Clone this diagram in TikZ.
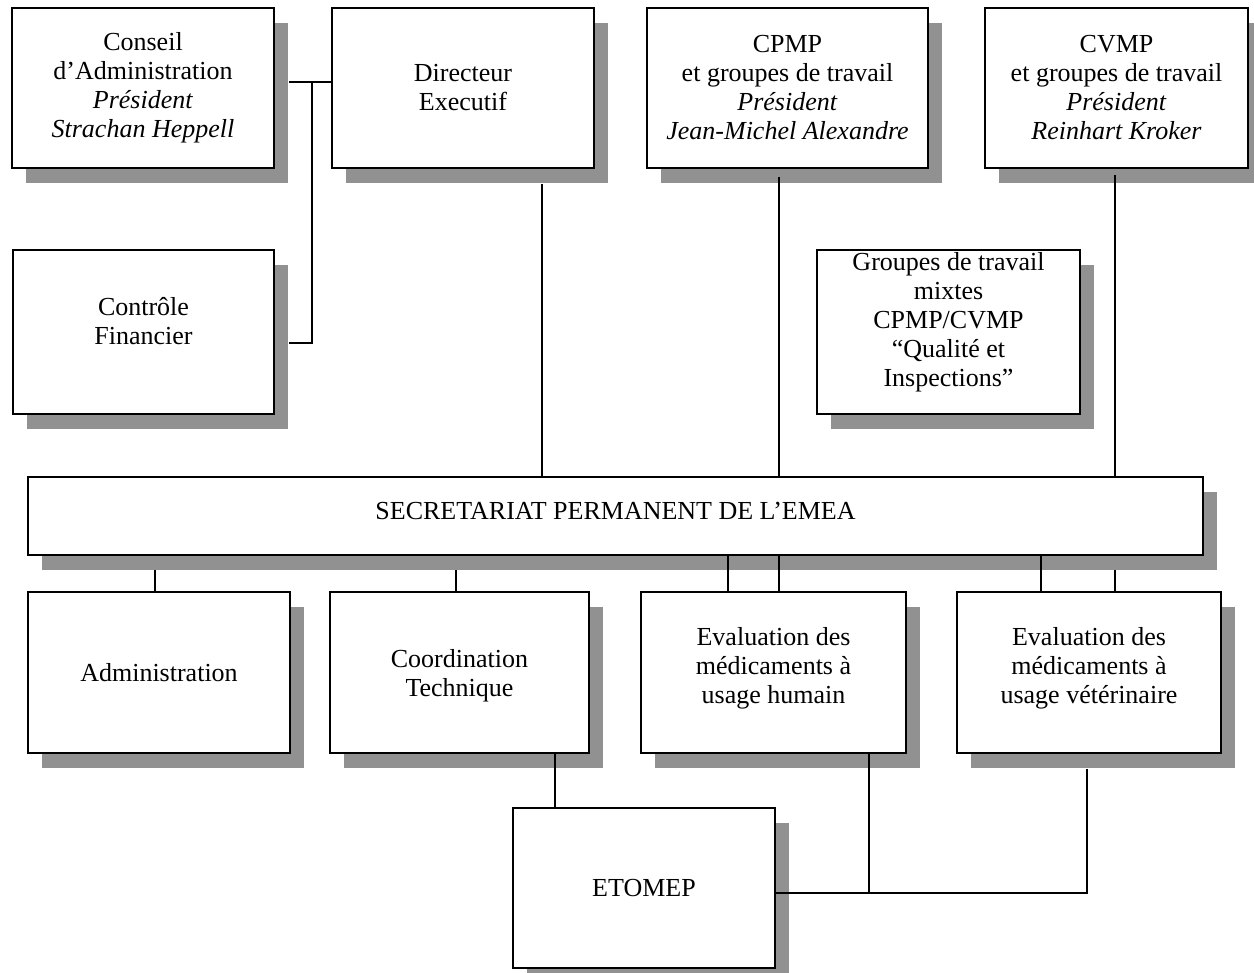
\documentclass[tikz,border=0pt]{standalone}
\usepackage{fontspec}
\setmainfont{Liberation Serif}
\usetikzlibrary{shadows}
\definecolor{shadowgray}{RGB}{145,145,145}
\newcommand{\liftlines}[2]{\raisebox{#1}[\height][\depth]{\begin{tabular}{@{}c@{}}#2\end{tabular}}}
\begin{document}
\begin{tikzpicture}[x=1pt,y=-1pt,
  box/.style={draw, line width=2pt, fill=white, anchor=north west, align=center,
    inner sep=0pt, font=\fontsize{26}{29}\selectfont,
    drop shadow={shadow xshift=14pt, shadow yshift=-15pt, fill=shadowgray, opacity=1}},
  conn/.style={line width=1.7pt}]
\clip (0,0) rectangle (1254,973);
\fill[white] (0,0) rectangle (1254,973);

% boxes
\node[box, minimum width=262pt, minimum height=160pt] (cons) at (11,7)
  {Conseil\\d'Administration\\\textit{Président}\\\textit{Strachan Heppell}};
\node[box, minimum width=262pt, minimum height=160pt] (dir) at (331,7)
  {Directeur\\Executif};
\node[box, minimum width=281pt, minimum height=160pt] (cpmp) at (646,7)
  {CPMP\\et groupes de travail\\\textit{Président}\\\textit{Jean-Michel Alexandre}};
\node[box, minimum width=263pt, minimum height=160pt] (cvmp) at (984,7)
  {CVMP\\et groupes de travail\\\textit{Président}\\\textit{Reinhart Kroker}};
\node[box, minimum width=261pt, minimum height=164pt] (ctrl) at (12,249)
  {\liftlines{8pt}{Contrôle\\Financier}};
\node[box, minimum width=263pt, minimum height=164pt] (mixt) at (816,249)
  {\liftlines{9pt}{Groupes de travail\\mixtes\\CPMP/CVMP\\“Qualité et\\Inspections”}};
\node[box, minimum width=1175pt, minimum height=78pt] (sec) at (27,476)
  {\liftlines{2pt}{SECRETARIAT PERMANENT DE L'EMEA}};
\node[box, minimum width=262pt, minimum height=161pt] (adm) at (27,591)
  {Administration};
\node[box, minimum width=259pt, minimum height=161pt] (coord) at (329,591)
  {\liftlines{-4pt}{Coordination\\Technique}};
\node[box, minimum width=265pt, minimum height=161pt] (ehum) at (640,591)
  {\liftlines{4pt}{Evaluation des\\médicaments à\\usage humain}};
\node[box, minimum width=264pt, minimum height=161pt] (evet) at (956,591)
  {\liftlines{4pt}{Evaluation des\\médicaments à\\usage vétérinaire}};
\node[box, minimum width=262pt, minimum height=160pt] (etom) at (512,807)
  {ETOMEP};

% helper coordinates
\coordinate (jt) at (312,82);
\coordinate (jb) at (312,343);
\coordinate (xd) at (542,0);
\coordinate (xp) at (779,0);
\coordinate (xv) at (1115,0);
\coordinate (xa) at (155,0);
\coordinate (xc) at (456,0);
\coordinate (xh1) at (728,0);
\coordinate (xv1) at (1041,0);
\coordinate (xe) at (555,0);
\coordinate (xh2) at (869,0);
\coordinate (xv2) at (1087,0);
\coordinate (yb) at (0,893);
\path ([xshift=14pt]cons.east) coordinate (consS)
      ([xshift=14pt]ctrl.east) coordinate (ctrlS)
      ([yshift=-15pt]dir.south) coordinate (dirS)
      ([yshift=-8pt]cpmp.south) coordinate (cpmpS)
      ([yshift=-6pt]cvmp.south) coordinate (cvmpS)
      ([yshift=-14pt]sec.south) coordinate (secS)
      ([yshift=-15pt]evet.south) coordinate (evetS);

% connectors
\draw[conn] (consS |- jt) -- (dir.west |- jt);
\draw[conn] (jt) -- (jb) -- (ctrlS |- jb);
\draw[conn] (dirS -| xd) -- (sec.north -| xd);
\draw[conn] (cpmpS -| xp) -- (sec.north -| xp);
\draw[conn] (cvmpS -| xv) -- (sec.north -| xv);
\draw[conn] (secS -| xa) -- (adm.north -| xa);
\draw[conn] (secS -| xc) -- (coord.north -| xc);
\draw[conn] (sec.south -| xh1) -- (ehum.north -| xh1);
\draw[conn] (sec.south -| xp) -- (ehum.north -| xp);
\draw[conn] (sec.south -| xv1) -- (evet.north -| xv1);
\draw[conn] (secS -| xv) -- (evet.north -| xv);
\draw[conn] (coord.south -| xe) -- (etom.north -| xe);
\draw[conn] (ehum.south -| xh2) -- (xh2 |- yb);
\draw[conn] (etom.east |- yb) -- (xv2 |- yb) -- (evetS -| xv2);
\end{tikzpicture}
\end{document}
